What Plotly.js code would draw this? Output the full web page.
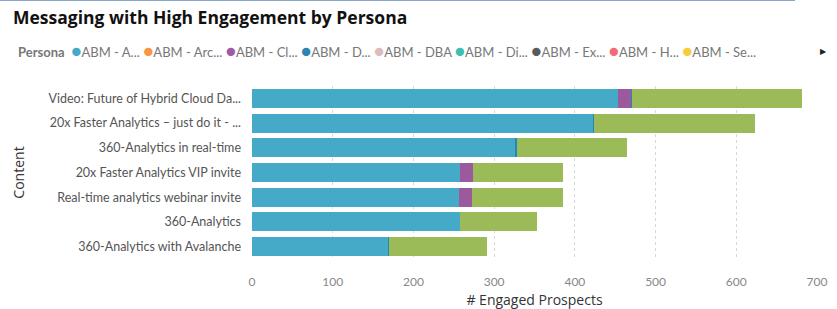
<!DOCTYPE html>
<html>
<head>
<meta charset="utf-8">
<script src="https://cdn.plot.ly/plotly-3.0.1.min.js"></script>
<style>
html,body{margin:0;padding:0;background:#fff;}
#chart{width:837px;height:309px;}
#topline{position:absolute;left:0;top:0;width:795px;height:1px;background:#8aa6c8;}
</style>
</head>
<body>
<div id="chart"></div>
<div id="topline"></div>
<script>
const categories = [
  "Video: Future of Hybrid Cloud Da...",
  "20x Faster Analytics \u2013 just do it - ...",
  "360-Analytics in real-time",
  "20x Faster Analytics VIP invite",
  "Real-time analytics webinar invite",
  "360-Analytics",
  "360-Analytics with Avalanche"
];
const abmA  = [453, 422, 326, 258, 256, 258, 168];
const abmCl = [16, 0, 0, 16, 16, 0, 0];
const abmD  = [2, 2, 2, 0, 0, 0, 2];
const abmOther = [211, 199, 137, 111, 113, 95, 121];

const legendNames  = ["ABM - A...", "ABM - Arc...", "ABM - Cl...", "ABM - D...", "ABM - DBA", "ABM - Di...", "ABM - Ex...", "ABM - H...", "ABM - Se..."];
const legendColors = ["#45a9c8", "#f79646", "#a05aa5", "#2a86b0", "#dcbcbf", "#3cc0b4", "#555b5e", "#f26b77", "#f5cc3a"];
const xTicks = [0, 100, 200, 300, 400, 500, 600, 700];

const traces = [
  {name: legendNames[0], y: categories, x: abmA, type: "bar", orientation: "h", marker: {color: legendColors[0]}},
  {name: legendNames[2], y: categories, x: abmCl, type: "bar", orientation: "h", marker: {color: "#9c5a9e"}},
  {name: legendNames[3], y: categories, x: abmD, type: "bar", orientation: "h", marker: {color: legendColors[3]}},
  {name: "ABM - other", y: categories, x: abmOther, type: "bar", orientation: "h", marker: {color: "#9bbb59"}}
];

let legendText = "<b>Persona</b>  ";
legendNames.forEach((n, i) => {
  legendText += "<span style='color:" + legendColors[i] + ";font-size:17px'>\u25CF</span>" + n + " ";
});

const W = 837, H = 309, L = 252, R = 20, T = 86, B = 50;
const pw = W - L - R, ph = H - T - B;

const layout = {
  width: W, height: H,
  margin: {l: L, r: R, t: T, b: B, pad: 0},
  paper_bgcolor: "#fff", plot_bgcolor: "#fff",
  barmode: "stack",
  bargap: 0.23,
  showlegend: false,
  font: {family: "Lato, 'Open Sans', sans-serif", color: "#666"},
  title: {
    text: "Messaging with High Engagement by Persona",
    x: 13 / W, xanchor: "left", xref: "container",
    y: 1 - 18 / H, yanchor: "middle", yref: "container",
    font: {family: "'Open Sans', sans-serif", size: 17.5, color: "#111", weight: "bold"}
  },
  xaxis: {
    range: [0, 700],
    tickvals: xTicks,
    ticktext: xTicks.map(String),
    showgrid: true, gridcolor: "#d8d8d8", griddash: "dot", gridwidth: 1,
    zeroline: false, showline: false,
    ticks: "", ticklabelstandoff: 14,
    tickfont: {family: "Lato, sans-serif", size: 12, color: "#888"},
    title: {text: "# Engaged Prospects", standoff: 13, font: {family: "'Open Sans', sans-serif", size: 14, color: "#333"}}
  },
  yaxis: {
    type: "category",
    autorange: "reversed",
    showgrid: false, zeroline: false, showline: false,
    ticks: "", ticklabelstandoff: 10,
    tickfont: {family: "Lato, sans-serif", size: 12.5, color: "#555"},
    title: {text: "Content", standoff: 20, font: {family: "'Open Sans', sans-serif", size: 14, color: "#333"}}
  },
  annotations: [
    {
      text: legendText, showarrow: false,
      xref: "paper", yref: "paper",
      x: (16 - L) / pw, xanchor: "left",
      y: 1 + (T - 51) / ph, yanchor: "middle",
      font: {family: "Lato, sans-serif", size: 13, color: "#777"}
    },
    {
      text: "\u25B6", showarrow: false,
      xref: "paper", yref: "paper",
      x: (823 - L) / pw, xanchor: "center",
      y: 1 + (T - 51) / ph, yanchor: "middle",
      font: {size: 8, color: "#222"}
    }
  ]
};

Plotly.newPlot("chart", traces, layout, {displayModeBar: false, staticPlot: true});
</script>
</body>
</html>
